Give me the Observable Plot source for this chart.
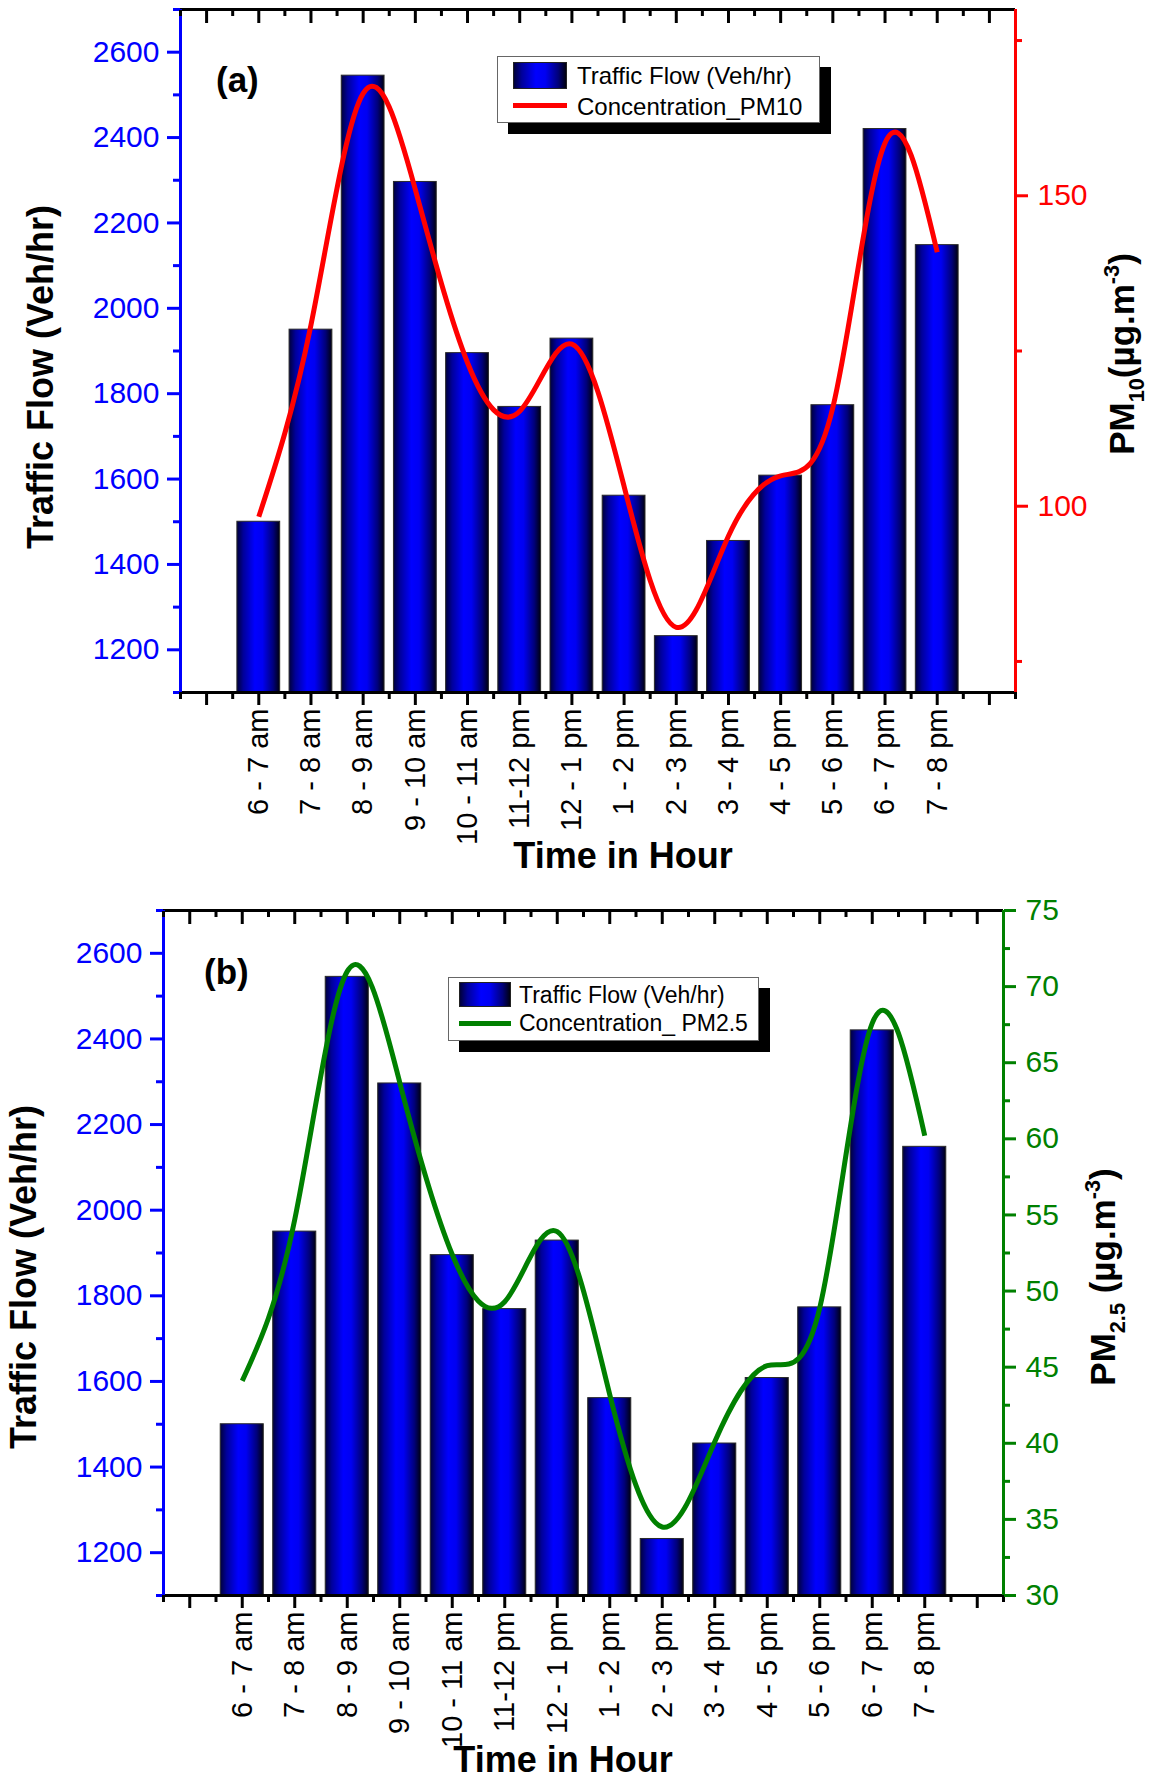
<!DOCTYPE html>
<html>
<head>
<meta charset="utf-8">
<script src="https://cdn.jsdelivr.net/npm/d3@7"></script>
<script src="https://cdn.jsdelivr.net/npm/@observablehq/plot@0.6"></script>
<style>
html, body { margin: 0; padding: 0; background: #fff; overflow: hidden; }
#page { position: relative; width: 1151px; height: 1778px; font-family: "Liberation Sans", Arial, sans-serif; }
.panel { position: absolute; left: 0; width: 1151px; }
.lg { position: absolute; box-sizing: border-box; }
.lgtext { position: absolute; white-space: nowrap; line-height: 1; color: #000; font-family: "Liberation Sans", Arial, sans-serif; }
</style>
</head>
<body>
<div id="page">
  <div class="panel" id="pa" style="top:0px;height:880px"></div>
  <div class="panel" id="pb" style="top:880px;height:898px"></div>
</div>
<script>
// ---------------- data ----------------
const hours = ["6 - 7 am", "7 - 8 am", "8 - 9 am", "9 - 10 am", "10 - 11 am", "11-12 pm", "12 - 1 pm",
  "1 - 2 pm", "2 - 3 pm", "3 - 4 pm", "4 - 5 pm", "5 - 6 pm", "6 - 7 pm", "7 - 8 pm"];
const traffic = [1500, 1950, 2545, 2296, 1895, 1769, 1929, 1561, 1232, 1455, 1608, 1773, 2420, 2148];
const pm10 = [98.3, 129.2, 166.5, 151.0, 123.1, 115.3, 126.1, 103.2, 80.5, 95.2, 104.9, 115.9, 158.5, 140.9];
const pm25 = [44.1, 54.7, 71.0, 63.7, 52.4, 49.3, 53.9, 43.2, 34.5, 40.1, 45.1, 48.9, 67.6, 60.2];

const trafficDomain = [1100, 2700];
const trafficMajor = [1200, 1400, 1600, 1800, 2000, 2200, 2400, 2600];
const trafficMinor = [1100, 1300, 1500, 1700, 1900, 2100, 2300, 2500, 2700];
const pm10Domain = [70, 180];
const pm10Major = [100, 150];
const pm10Minor = [75, 125, 175];
const pm25Domain = [30, 75];
const pm25Major = [30, 35, 40, 45, 50, 55, 60, 65, 70, 75];
const pm25Minor = [32.5, 37.5, 42.5, 47.5, 52.5, 57.5, 62.5, 67.5, 72.5];
const xDomain = [-0.5, 15.5];
const xMajor = d3.range(0, 16);
const xMinor = d3.range(-0.5, 16, 1);

const FONT = "'Liberation Sans', Arial, Helvetica, sans-serif";
const BLUE = "#0000ff";
const NS = "http://www.w3.org/2000/svg";

// ---------------- helpers ----------------
function gradDefs(id) {
  return () => {
    const defs = document.createElementNS(NS, "defs");
    const g = document.createElementNS(NS, "linearGradient");
    g.setAttribute("id", id);
    g.setAttribute("x1", "0"); g.setAttribute("x2", "1");
    g.setAttribute("y1", "0"); g.setAttribute("y2", "0");
    [[0, "#00003a"], [0.15, "#00009a"], [0.42, "#0000ff"], [0.6, "#0000f2"], [0.85, "#00007a"], [1, "#000010"]].forEach(([o, c]) => {
      const s = document.createElementNS(NS, "stop");
      s.setAttribute("offset", o); s.setAttribute("stop-color", c);
      g.appendChild(s);
    });
    defs.appendChild(g);
    return defs;
  };
}

// parts: [text, kind] with kind in "", "sub", "sup"
function richText(parts, {x, y, rotate = 0, size = 35, weight = "bold", anchor = "middle", fill = "#000"}) {
  return () => {
    const t = document.createElementNS(NS, "text");
    t.setAttribute("transform", `translate(${x},${y}) rotate(${rotate})`);
    t.setAttribute("text-anchor", anchor);
    t.setAttribute("font-size", size);
    t.setAttribute("font-weight", weight);
    t.setAttribute("font-family", FONT);
    t.setAttribute("fill", fill);
    let shift = 0;
    parts.forEach(([str, kind]) => {
      const sp = document.createElementNS(NS, "tspan");
      let target = 0;
      if (kind === "sub") { sp.setAttribute("font-size", size * 0.62); target = size * 0.28; }
      if (kind === "sup") { sp.setAttribute("font-size", size * 0.62); target = -size * 0.42; }
      const d = target - shift;
      if (d !== 0) sp.setAttribute("dy", d);
      shift = target;
      sp.textContent = str;
      t.appendChild(sp);
    });
    return t;
  };
}

function addLegend(el, L) {
  const mk = (cls, css) => { const d = document.createElement("div"); d.className = cls; Object.assign(d.style, css); el.appendChild(d); return d; };
  mk("lg", {left: L.box[0] + 11 + "px", top: L.box[1] + 11 + "px", width: L.box[2] + "px", height: L.box[3] + "px", background: "#000"});
  mk("lg", {left: L.box[0] + "px", top: L.box[1] + "px", width: L.box[2] + "px", height: L.box[3] + "px", background: "#fff", border: "1.5px solid #666"});
  mk("lg", {left: L.sw[0] + "px", top: L.sw[1] + "px", width: L.sw[2] + "px", height: L.sw[3] + "px",
    background: "linear-gradient(to right, #00003a 0%, #00009a 15%, #0000ff 42%, #0000f2 60%, #00007a 85%, #000010 100%)", border: "1px solid #222"});
  mk("lg", {left: L.sw[0] + "px", top: L.lineY - 2 + "px", width: L.sw[2] + "px", height: "4.5px", background: L.color});
  L.texts.forEach((txt, i) => {
    const s = mk("lgtext", {left: L.tx + "px", top: (L.base[i] - 0.8465 * L.size) + "px", fontSize: L.size + "px"});
    s.textContent = txt;
  });
}

function makePanel(el, cfg) {
  const rows = hours.map((h, i) => ({pos: i + 1, hour: h, traffic: traffic[i], pm: cfg.pm[i]}));
  const common = {
    width: 1151, height: cfg.height,
    marginTop: cfg.mt, marginRight: cfg.mr, marginBottom: cfg.mb, marginLeft: cfg.ml,
    style: {fontFamily: FONT, background: "transparent", overflow: "visible", position: "absolute", left: "0px", top: "0px", maxWidth: "none"}
  };
  const bars = Plot.plot({
    ...common,
    x: {domain: xDomain},
    y: {domain: trafficDomain},
    marks: [
      gradDefs(cfg.gid),
      Plot.rectY(rows, {x1: d => d.pos - 0.41, x2: d => d.pos + 0.41, y1: trafficDomain[0], y2: "traffic",
        fill: `url(#${cfg.gid})`, stroke: "#2a2a2a", strokeWidth: 1}),
      Plot.ruleY([trafficDomain[1]], {stroke: "#000", strokeWidth: 3}),
      Plot.ruleY([trafficDomain[0]], {stroke: "#000", strokeWidth: 3}),
      Plot.ruleX([xDomain[0]], {stroke: BLUE, strokeWidth: 3}),
      Plot.axisY({ticks: trafficMajor, tickSize: 13, tickPadding: 8, tickFormat: d => String(d), color: BLUE, strokeWidth: 3, fontSize: 30, label: null}),
      Plot.axisY({ticks: trafficMinor, tickSize: 7, tickFormat: () => "", color: BLUE, strokeWidth: 3, label: null}),
      Plot.axisX({ticks: xMajor, tickSize: 13, tickPadding: 3, tickRotate: -90, tickFormat: i => hours[i - 1] ?? "",
        fontSize: 29, strokeWidth: 3, color: "#000", label: null}),
      Plot.axisX({ticks: xMinor, tickSize: 7, tickFormat: () => "", strokeWidth: 3, color: "#000", label: null}),
      Plot.axisX({anchor: "top", ticks: xMajor, tickSize: -13, tickFormat: () => "", strokeWidth: 3, color: "#000", label: null}),
      Plot.axisX({anchor: "top", ticks: xMinor, tickSize: -6, tickFormat: () => "", strokeWidth: 3, color: "#000", label: null}),
      richText([["Traffic Flow (Veh/hr)", ""]], {x: cfg.yTitle[0], y: cfg.yTitle[1], rotate: -90, size: 36}),
      richText([["Time in Hour", ""]], {x: cfg.xTitle[0], y: cfg.xTitle[1], size: 36}),
      richText([[cfg.tag, ""]], {x: cfg.tagPos[0], y: cfg.tagPos[1], size: 35, anchor: "start"})
    ]
  });
  const line = Plot.plot({
    ...common,
    x: {domain: xDomain, axis: null},
    y: {domain: cfg.pmDomain},
    marks: [
      Plot.line(rows, {x: "pos", y: "pm", curve: "natural", stroke: cfg.color, strokeWidth: 5, strokeLinecap: "butt"}),
      Plot.ruleX([xDomain[1]], {stroke: cfg.color, strokeWidth: 3}),
      Plot.axisY({anchor: "right", ticks: cfg.pmMajor, tickSize: 12, tickPadding: 10, tickFormat: d => String(d), color: cfg.color, strokeWidth: 3, fontSize: 30, label: null}),
      Plot.axisY({anchor: "right", ticks: cfg.pmMinor, tickSize: 6, tickFormat: () => "", color: cfg.color, strokeWidth: 3, label: null}),
      richText(cfg.rTitle, {x: cfg.rTitlePos[0], y: cfg.rTitlePos[1], rotate: -90, size: 35})
    ]
  });
  el.appendChild(bars);
  el.appendChild(line);
  addLegend(el, cfg.legend);
}

makePanel(document.getElementById("pa"), {
  height: 880, mt: 9, mr: 136, mb: 188, ml: 180, gid: "gradA",
  pm: pm10, pmDomain: pm10Domain, pmMajor: pm10Major, pmMinor: pm10Minor, color: "#ff0000",
  yTitle: [53, 377], xTitle: [623, 868], tag: "(a)", tagPos: [216, 92],
  rTitle: [["PM", ""], ["10", "sub"], ["(µg.m", ""], ["-3", "sup"], [")", ""]], rTitlePos: [1134, 354],
  legend: {box: [497, 56, 323, 67], sw: [513, 62, 54, 27], lineY: 105.3, color: "#ff0000", tx: 577, base: [84, 115], size: 24,
    texts: ["Traffic Flow (Veh/hr)", "Concentration_PM10"]}
});

makePanel(document.getElementById("pb"), {
  height: 898, mt: 30, mr: 148, mb: 183, ml: 163, gid: "gradB",
  pm: pm25, pmDomain: pm25Domain, pmMajor: pm25Major, pmMinor: pm25Minor, color: "#008000",
  yTitle: [36, 397], xTitle: [563, 892], tag: "(b)", tagPos: [204, 104],
  rTitle: [["PM", ""], ["2.5", "sub"], [" (µg.m", ""], ["-3", "sup"], [")", ""]], rTitlePos: [1115, 397],
  legend: {box: [448, 97, 311, 64], sw: [459, 102, 52, 25], lineY: 143.4, color: "#008000", tx: 519, base: [123, 151.8], size: 23,
    texts: ["Traffic Flow (Veh/hr)", "Concentration_ PM2.5"]}
});
</script>
</body>
</html>
